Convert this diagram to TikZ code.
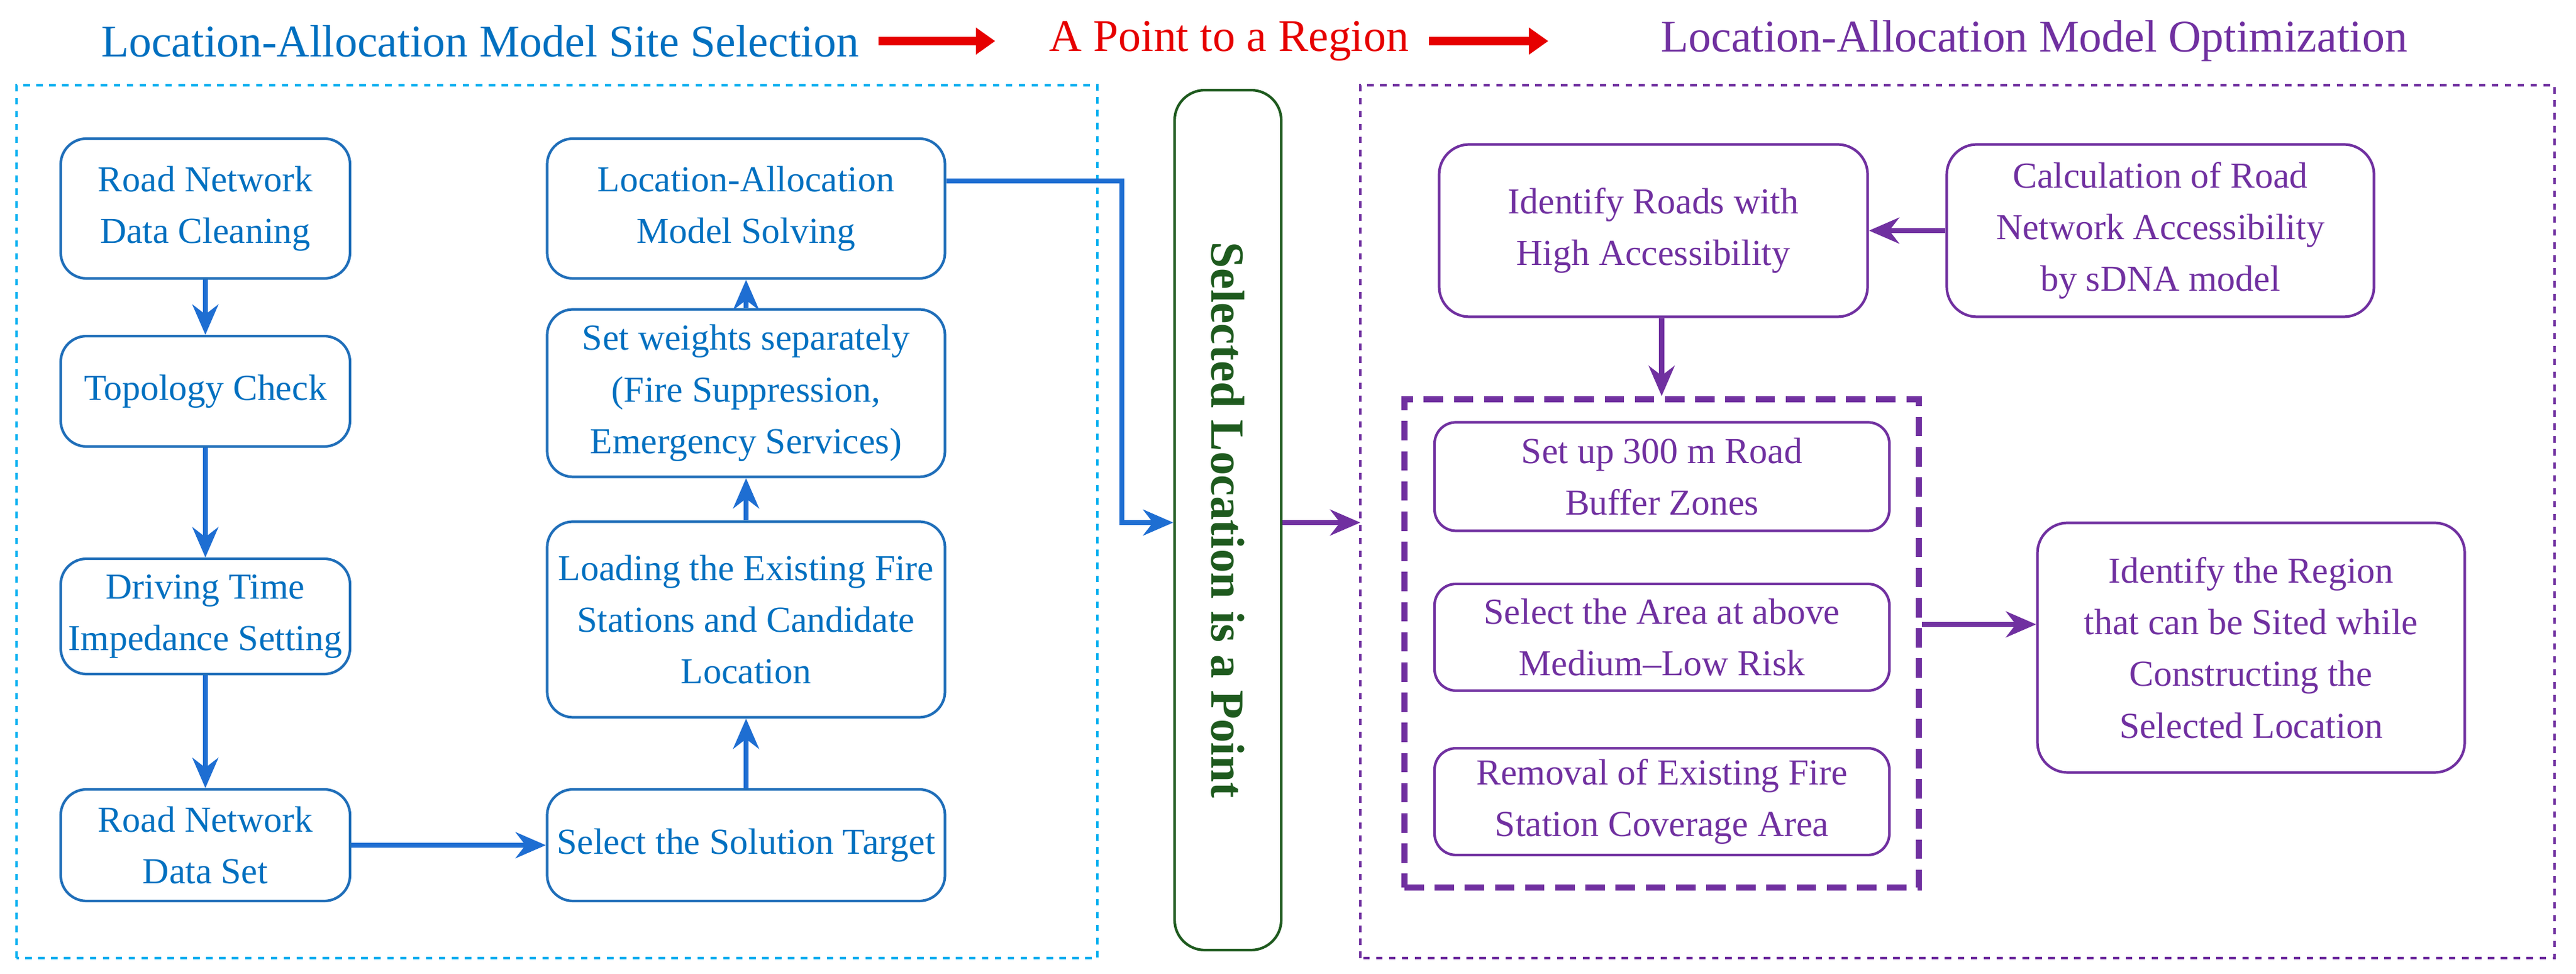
\documentclass[tikz,border=0pt]{standalone}
\usepackage{fontspec}
\setmainfont{Liberation Serif}
\usetikzlibrary{shapes,arrows,arrows.meta,positioning}
\definecolor{tblue}{RGB}{0,112,192}
\definecolor{lblue}{RGB}{31,110,185}
\definecolor{ablue}{RGB}{30,110,210}
\definecolor{cyanl}{RGB}{0,176,240}
\definecolor{tpurp}{RGB}{112,48,160}
\definecolor{tgreen}{RGB}{30,90,30}
\definecolor{tred}{RGB}{230,0,0}
\tikzset{
  bbox/.style={draw=lblue, line width=1.2pt, rounded corners=12pt, text=tblue, align=center, font=\fontsize{17}{24}\selectfont},
  pbox/.style={draw=tpurp, line width=1.2pt, rounded corners=14pt, text=tpurp, align=center, font=\fontsize{17}{24}\selectfont},
  barr/.style={draw=ablue, line width=2.4pt, -{Stealth[length=14pt,width=12pt]}},
  parr/.style={draw=tpurp, line width=2.4pt, -{Stealth[length=14pt,width=12pt]}},
  ttl/.style={font=\fontsize{21}{24}\selectfont}
}
\begin{document}
\begin{tikzpicture}
\useasboundingbox (0,0) rectangle (42.02,15.88);
% titles
\node[ttl, text=tblue] (t1) at (7.83,15.21) {Location-Allocation Model Site Selection};
\node[ttl, text=tred] (t2) at (20.05,15.21) {A Point to a Region};
\node[ttl, text=tpurp] (t3) at (33.18,15.21) {Location-Allocation Model Optimization};
\draw[tred, line width=4pt, -{Triangle[length=9pt,width=12pt]}] (t1.east)+(0.2,0) -- ++(2.1,0);
\draw[tred, line width=4pt, -{Triangle[length=9pt,width=12pt]}] (t2.east)+(0.2,0) -- ++(2.15,0);
% frames
\draw[cyanl, line width=1.3pt, dashed] (0.27,0.26) rectangle (17.90,14.49);
\draw[tpurp, line width=1.2pt, dashed] (22.19,0.26) rectangle (41.67,14.49);
% left part
\node[bbox, minimum width=4.72cm, minimum height=2.28cm] (clean) at (3.35,12.48) {Road Network\\Data Cleaning};
\node[bbox, minimum width=4.72cm, minimum height=1.80cm] (topo) at (3.35,9.50) {Topology Check};
\node[bbox, minimum width=4.72cm, minimum height=1.88cm] (drive) at (3.35,5.83) {Driving Time\\Impedance Setting};
\node[bbox, minimum width=4.72cm, minimum height=1.82cm] (dset) at (3.35,2.10) {Road Network\\Data Set};
\node[bbox, minimum width=6.49cm, minimum height=2.28cm] (solve) at (12.17,12.48) {Location-Allocation\\Model Solving};
\node[bbox, minimum width=6.49cm, minimum height=2.73cm] (weight) at (12.17,9.47) {Set weights separately\\(Fire Suppression,\\Emergency Services)};
\node[bbox, minimum width=6.49cm, minimum height=3.19cm] (load) at (12.17,5.78) {Loading the Existing Fire\\Stations and Candidate\\Location};
\node[bbox, minimum width=6.49cm, minimum height=1.82cm] (target) at (12.17,2.10) {Select the Solution Target};
\draw[barr] (clean) -- (topo);
\draw[barr] (topo) -- (drive);
\draw[barr] (drive) -- (dset);
\draw[barr] (dset) -- (target);
\draw[barr] (target) -- (load);
\draw[barr] (load) -- (weight);
\draw[barr] (weight) -- (solve);
% middle
\node[draw=tgreen, line width=1.2pt, rounded corners=14pt, minimum width=14.02cm, minimum height=1.74cm, rotate=-90, text=tgreen, font=\fontsize{22}{24}\selectfont\bfseries] (point) at (20.03,7.40) {Selected Location is a Point};
\coordinate (bend) at (18.30,12.93);
\draw[barr] (solve.east |- bend) -- (bend) |- (point.south |- 0,7.36);
\coordinate (pin) at (22.19,7.36);
\draw[parr] (point.north |- pin) -- (pin);
% right part
\node[pbox, minimum width=6.99cm, minimum height=2.81cm] (high) at (26.97,12.12) {Identify Roads with\\High Accessibility};
\node[pbox, minimum width=6.97cm, minimum height=2.81cm] (sdna) at (35.24,12.12) {Calculation of Road\\Network Accessibility\\by sDNA model};
\node[draw=tpurp, line width=3pt, dash pattern=on 9pt off 5pt, minimum width=8.39cm, minimum height=7.96cm] (zone) at (27.105,5.39) {};
\node[pbox, rounded corners=10pt, minimum width=7.42cm, minimum height=1.77cm] (buf) at (27.11,8.11) {Set up 300 m Road\\Buffer Zones};
\node[pbox, rounded corners=10pt, minimum width=7.42cm, minimum height=1.74cm] (risk) at (27.11,5.49) {Select the Area at above\\Medium–Low Risk};
\node[pbox, rounded corners=10pt, minimum width=7.42cm, minimum height=1.74cm] (cover) at (27.11,2.81) {Removal of Existing Fire\\Station Coverage Area};
\node[pbox, minimum width=6.97cm, minimum height=4.07cm] (region) at (36.72,5.32) {Identify the Region\\that can be Sited while\\Constructing the\\Selected Location};
\draw[parr] (sdna) -- (high);
\draw[parr] (high.south -| zone.north) -- (zone.north);
\draw[parr] (zone.east |- 0,5.70) -- (region.west |- 0,5.70);
\end{tikzpicture}
\end{document}
